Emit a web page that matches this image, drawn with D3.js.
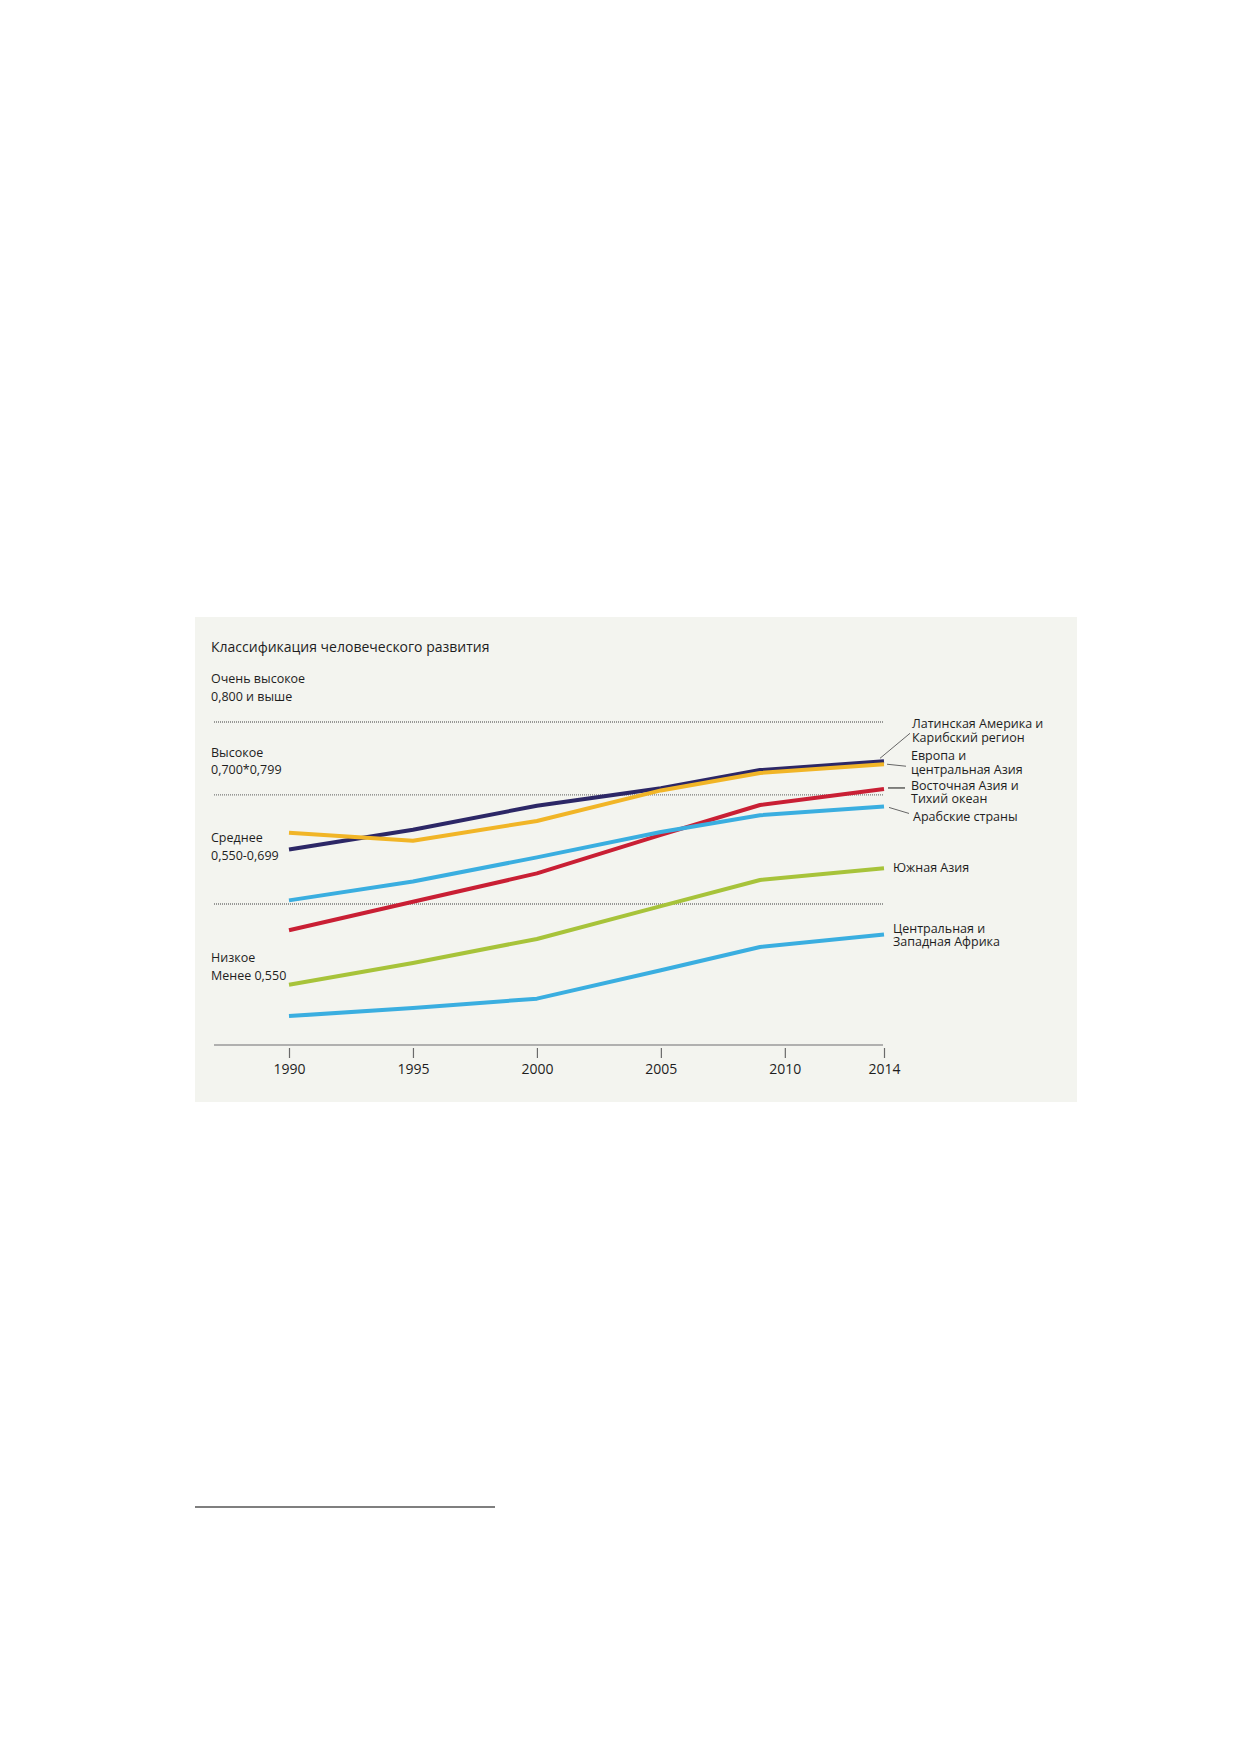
<!DOCTYPE html>
<meta charset="utf-8">
<script src="https://d3js.org/d3.v7.min.js"></script>
<style>
  body { margin: 0; background: #fff; }
  text { font-family: "Open Sans", "Noto Sans", sans-serif; fill: #1e1e1e; }
</style>
<div id="my_dataviz"></div>
<script>

  // years where the lines bend
  const years = [1990, 1995, 2000, 2005, 2009, 2014]

  // HDI values
  const latinAmerica = [0.625, 0.652, 0.685, 0.709, 0.734, 0.746]
  const europe       = [0.648, 0.637, 0.664, 0.706, 0.730, 0.742]
  const eastAsia     = [0.514, 0.553, 0.592, 0.645, 0.686, 0.708]
  const arabStates   = [0.555, 0.581, 0.614, 0.649, 0.672, 0.684]
  const southAsia    = [0.439, 0.469, 0.502, 0.547, 0.583, 0.599]
  const westAfrica   = [0.396, 0.407, 0.420, 0.459, 0.491, 0.508]

  const tickYears = [1990, 1995, 2000, 2005, 2010, 2014]
  const thresholds = [0.8, 0.7, 0.55]
  const bandNames = ["Очень высокое", "Высокое", "Среднее", "Низкое"]
  const bandRanges = ["0,800 и выше", "0,700*0,799", "0,550-0,699", "Менее 0,550"]
  const title = "Классификация человеческого развития"

  const series = [
    {values: latinAmerica, color: "#2c2766", label: ["Латинская Америка и", "Карибский регион"],
     lx: 28, ly: -33, lead: [[-4, -3], [26, -28]], leadColor: "#666"},
    {values: europe, color: "#f1b527", label: ["Европа и", "центральная Азия"],
     lx: 27, ly: -4, lead: [[3, 0], [22, 2]], leadColor: "#666"},
    {values: eastAsia, color: "#c91f34", label: ["Восточная Азия и", "Тихий океан"],
     lx: 27, ly: 1, lead: [[4, -1], [21, -1]], leadColor: "#111"},
    {values: arabStates, color: "#3aaee0", label: ["Арабские страны"],
     lx: 29, ly: 15, lead: [[5, 1], [25, 7]], leadColor: "#666"},
    {values: southAsia, color: "#a7c33a", label: ["Южная Азия"],
     lx: 9, ly: 4, lead: null},
    {values: westAfrica, color: "#3aaee0", label: ["Центральная и", "Западная Африка"],
     lx: 9, ly: -2, lead: null}
  ]

  const W = 1239, H = 1752
  const panel = {left: 195, top: 617, right: 1077, bottom: 1102}

  const svg = d3.select("#my_dataviz")
    .append("svg")
      .attr("width", W)
      .attr("height", H)

  svg.append("rect")
    .attr("x", panel.left)
    .attr("y", panel.top)
    .attr("width", panel.right - panel.left)
    .attr("height", panel.bottom - panel.top)
    .attr("fill", "#f3f4ef")

  const x = d3.scaleLinear()
    .domain([1990, 2014])
    .range([289, 884])

  const y = d3.scaleLinear()
    .domain([0.55, 0.8])
    .range([904, 722])

  const gridLeft = 214, gridRight = 883, axisY = 1045

  // title
  svg.append("text")
    .attr("x", 211)
    .attr("y", 652)
    .style("font-size", "14px")
    .text(title)

  // threshold lines (dotted)
  svg.selectAll(".grid")
    .data(thresholds)
    .join("line")
      .attr("x1", gridLeft)
      .attr("x2", gridRight)
      .attr("y1", d => y(d))
      .attr("y2", d => y(d))
      .attr("stroke", "#7a7a7a")
      .attr("stroke-width", 1.3)
      .attr("stroke-dasharray", "1,1")

  // band labels sit above each threshold (last one below the lowest)
  const bandTop = [0.8, 0.7, 0.55, 0.55]
  const bandOffset = [-39, -38, -62, 58]
  bandNames.forEach((name, i) => {
    const by = y(bandTop[i]) + bandOffset[i]
    const t = svg.append("text")
      .attr("x", 211)
      .attr("y", by)
      .style("font-size", "12.5px")
    t.append("tspan").attr("x", 211).text(name)
    t.append("tspan").attr("x", 211).attr("dy", 17.5).text(bandRanges[i])
  })

  // x axis base line
  svg.append("line")
    .attr("x1", gridLeft)
    .attr("x2", gridRight)
    .attr("y1", axisY)
    .attr("y2", axisY)
    .attr("stroke", "#9a9a9a")
    .attr("stroke-width", 1.3)

  const xAxis = svg.append("g")
    .attr("transform", `translate(0, ${axisY + 3})`)
    .call(d3.axisBottom(x).tickValues(tickYears).tickFormat(d3.format("d")).tickSize(10).tickPadding(6))
  xAxis.select(".domain").remove()
  xAxis.selectAll(".tick line").attr("stroke", "#6a6a6a").attr("stroke-width", 1.2)
  xAxis.selectAll(".tick text")
    .style("font-family", "'Open Sans', 'Noto Sans', sans-serif")
    .style("font-size", "14px")
    .attr("fill", "#1e1e1e")

  // lines
  const line = d3.line()
    .x((d, i) => x(years[i]))
    .y(d => y(d))

  svg.selectAll(".series")
    .data(series)
    .join("path")
      .attr("d", d => line(d.values))
      .attr("fill", "none")
      .attr("stroke", d => d.color)
      .attr("stroke-width", 4)
      .attr("stroke-linejoin", "round")

  // end labels
  series.forEach(s => {
    const ex = x(years[years.length - 1])
    const ey = y(s.values[s.values.length - 1])
    if (s.lead) {
      svg.append("line")
        .attr("x1", ex + s.lead[0][0]).attr("y1", ey + s.lead[0][1])
        .attr("x2", ex + s.lead[1][0]).attr("y2", ey + s.lead[1][1])
        .attr("stroke", s.leadColor)
        .attr("stroke-width", 1)
    }
    const t = svg.append("text")
      .attr("x", ex + s.lx)
      .attr("y", ey + s.ly)
      .style("font-size", "12.5px")
    s.label.forEach((l, i) => {
      t.append("tspan").attr("x", ex + s.lx).attr("dy", i ? 13.5 : 0).text(l)
    })
  })

  // footnote separator
  svg.append("line")
    .attr("x1", 195)
    .attr("x2", 495)
    .attr("y1", 1507)
    .attr("y2", 1507)
    .attr("stroke", "#555")
    .attr("stroke-width", 1.5)

</script>
